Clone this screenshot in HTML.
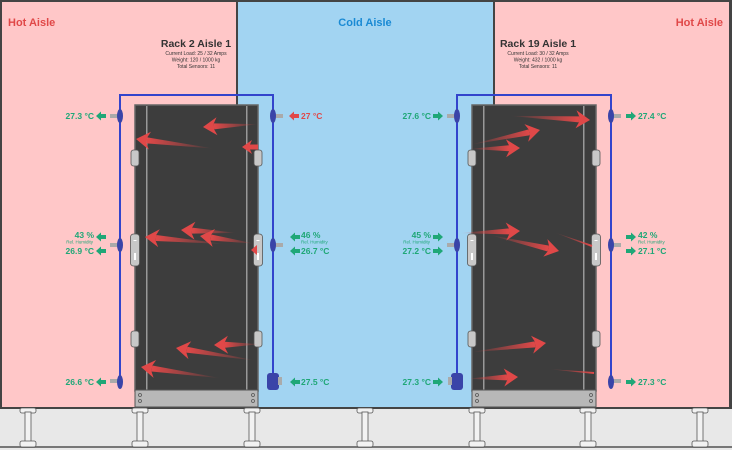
<!DOCTYPE html>
<html><head><meta charset="utf-8"><style>
html,body{margin:0;padding:0;background:#e8e8e8;}
svg{display:block;font-family:"Liberation Sans",sans-serif;}
.g{fill:#1fa777;font-weight:bold;font-size:8.5px;}
.s{fill:#1fa777;font-size:4.5px;}
.r{fill:#e04848;font-weight:bold;font-size:8.5px;}
</style></head><body>
<svg width="732" height="450" viewBox="0 0 732 450" xmlns="http://www.w3.org/2000/svg">
<defs>
<linearGradient id="fade" x1="0" y1="0" x2="1" y2="0">
<stop offset="0" stop-color="#e04848" stop-opacity="1"/>
<stop offset="1" stop-color="#e04848" stop-opacity="0"/>
</linearGradient>
<g id="pd">
<rect x="-8" y="408" width="16" height="5" rx="2" fill="#f2f2f2" stroke="#555" stroke-width="0.8"/>
<rect x="-3" y="412" width="6" height="30" fill="#f2f2f2" stroke="#555" stroke-width="0.8"/>
<rect x="-8" y="441" width="16" height="6" rx="2" fill="#f2f2f2" stroke="#555" stroke-width="0.8"/>
</g>
<g id="gl"><polygon points="0,0 5,-4.5 5,-2 10,-2 10,2 5,2 5,4.5" fill="#1fa777"/></g>
<g id="ha"><rect x="-4" y="-8" width="8" height="16" rx="2.5" fill="#c8c8c8" stroke="#555" stroke-width="0.8"/></g>
<g id="hb"><rect x="-4.5" y="-16" width="9" height="32" rx="3" fill="#c8c8c8" stroke="#555" stroke-width="0.8"/><rect x="-1.5" y="-10" width="3" height="1" fill="#fff"/><rect x="-1" y="3" width="2" height="7" fill="#fff"/></g>
<g id="ah"><polygon points="0,0 14,-9 11,-3 11,3 14,9" fill="#e04848"/></g>
</defs>
<rect x="0" y="0" width="732" height="450" fill="#e8e8e8"/>
<rect x="0" y="446" width="732" height="2" fill="#777"/>
<rect x="0" y="0" width="732" height="409" fill="#444"/>
<rect x="2" y="2" width="234" height="405" fill="#ffc7c8"/>
<rect x="238" y="2" width="255" height="405" fill="#a2d4f2"/>
<rect x="495" y="2" width="234" height="405" fill="#ffc7c8"/>
<use href="#pd" x="28"/><use href="#pd" x="140"/><use href="#pd" x="252"/><use href="#pd" x="365"/><use href="#pd" x="477"/><use href="#pd" x="588"/><use href="#pd" x="700"/>
<text x="8" y="26" font-size="11" font-weight="bold" fill="#e04848">Hot Aisle</text>
<text x="365" y="26" font-size="11" font-weight="bold" fill="#1a8ad4" text-anchor="middle">Cold Aisle</text>
<text x="723" y="26" font-size="11" font-weight="bold" fill="#e04848" text-anchor="end">Hot Aisle</text>
<text x="196" y="47" font-size="10.5" font-weight="bold" fill="#333" text-anchor="middle">Rack 2 Aisle 1</text>
<text x="196" y="55" font-size="5" fill="#333" text-anchor="middle">Current Load: 25 / 32 Amps</text>
<text x="196" y="61.5" font-size="5" fill="#333" text-anchor="middle">Weight: 120 / 1000 kg</text>
<text x="196" y="68" font-size="5" fill="#333" text-anchor="middle">Total Sensors: 11</text>
<text x="538" y="47" font-size="10.5" font-weight="bold" fill="#333" text-anchor="middle">Rack 19 Aisle 1</text>
<text x="538" y="55" font-size="5" fill="#333" text-anchor="middle">Current Load: 30 / 32 Amps</text>
<text x="538" y="61.5" font-size="5" fill="#333" text-anchor="middle">Weight: 432 / 1000 kg</text>
<text x="538" y="68" font-size="5" fill="#333" text-anchor="middle">Total Sensors: 11</text>
<rect x="135" y="105" width="123" height="286" fill="#3d3d3d" stroke="#666" stroke-width="1.5"/>
<rect x="146" y="106" width="1.5" height="284" fill="#999"/><rect x="246" y="106" width="1.5" height="284" fill="#999"/>
<rect x="135" y="390" width="123" height="17" fill="#b8b8b8" stroke="#555" stroke-width="1"/>
<g fill="none" stroke="#555" stroke-width="0.8"><circle cx="140" cy="395" r="1.5"/><circle cx="140" cy="401" r="1.5"/><circle cx="253" cy="395" r="1.5"/><circle cx="253" cy="401" r="1.5"/></g>
<rect x="472" y="105" width="124" height="286" fill="#3d3d3d" stroke="#666" stroke-width="1.5"/>
<rect x="483" y="106" width="1.5" height="284" fill="#999"/><rect x="583" y="106" width="1.5" height="284" fill="#999"/>
<rect x="472" y="390" width="124" height="17" fill="#b8b8b8" stroke="#555" stroke-width="1"/>
<g fill="none" stroke="#555" stroke-width="0.8"><circle cx="477" cy="395" r="1.5"/><circle cx="477" cy="401" r="1.5"/><circle cx="591" cy="395" r="1.5"/><circle cx="591" cy="401" r="1.5"/></g>
<use href="#ha" x="135" y="158"/><use href="#hb" x="135" y="250"/><use href="#ha" x="135" y="339"/>
<use href="#ha" x="258" y="158"/><use href="#hb" x="258" y="250"/><use href="#ha" x="258" y="339"/>
<use href="#ha" x="472" y="158"/><use href="#hb" x="472" y="250"/><use href="#ha" x="472" y="339"/>
<use href="#ha" x="596" y="158"/><use href="#hb" x="596" y="250"/><use href="#ha" x="596" y="339"/>
<!-- red arrows rack1 -->
<g transform="translate(203,127) rotate(-3)"><use href="#ah"/><polygon points="11,-3 55,0 11,3" fill="url(#fade)"/></g>
<g transform="translate(136,139) rotate(7)"><use href="#ah"/><polygon points="11,-3 78,0 11,3" fill="url(#fade)"/></g>
<g transform="translate(242,147)"><polygon points="0,0 10,-7 8,-2.5 8,2.5 10,7" fill="#e04848"/><polygon points="8,-2.5 16,-2.5 16,2.5 8,2.5" fill="#e04848"/></g>
<g transform="translate(145,237) rotate(5)"><use href="#ah"/><polygon points="11,-3 80,0 11,3" fill="url(#fade)"/></g>
<g transform="translate(181,230) rotate(3)"><use href="#ah"/><polygon points="11,-3 55,0 11,3" fill="url(#fade)"/></g>
<g transform="translate(200,236) rotate(8)"><use href="#ah"/><polygon points="11,-3 55,0 11,3" fill="url(#fade)"/></g>
<g transform="translate(251,250)"><polygon points="0,0 6,-5 6,5" fill="#e04848"/></g>
<g transform="translate(176,348) rotate(9)"><use href="#ah"/><polygon points="11,-3 80,0 11,3" fill="url(#fade)"/></g>
<g transform="translate(214,345) rotate(-1)"><use href="#ah"/><polygon points="11,-3 45,0 11,3" fill="url(#fade)"/></g>
<g transform="translate(141,367) rotate(8)"><use href="#ah"/><polygon points="11,-3 80,0 11,3" fill="url(#fade)"/></g>
<!-- red arrows rack2 -->
<g transform="translate(540,130) scale(-1,1) rotate(12)"><use href="#ah"/><polygon points="11,-3 70,0 11,3" fill="url(#fade)"/></g>
<g transform="translate(520,148) scale(-1,1) rotate(1)"><use href="#ah"/><polygon points="11,-3 50,0 11,3" fill="url(#fade)"/></g>
<g transform="translate(590,120) scale(-1,1) rotate(-3)"><use href="#ah"/><polygon points="11,-3 80,0 11,3" fill="url(#fade)"/></g>
<g transform="translate(520,231) scale(-1,1) rotate(2)"><use href="#ah"/><polygon points="11,-3 60,0 11,3" fill="url(#fade)"/></g>
<g transform="translate(559,251) scale(-1,1) rotate(-13)"><use href="#ah"/><polygon points="11,-3 70,0 11,3" fill="url(#fade)"/></g>
<g transform="translate(592,246) scale(-1,1) rotate(-20)"><polygon points="0,-1 40,0 0,1" fill="url(#fade)"/></g>
<g transform="translate(546,343) scale(-1,1) rotate(7)"><use href="#ah"/><polygon points="11,-3 75,0 11,3" fill="url(#fade)"/></g>
<g transform="translate(518,377) scale(-1,1) rotate(2)"><use href="#ah"/><polygon points="11,-3 50,0 11,3" fill="url(#fade)"/></g>
<g transform="translate(594,373) scale(-1,1) rotate(-5)"><polygon points="0,-1 45,0 0,1" fill="url(#fade)"/></g>
<g fill="none" stroke="#3344cc" stroke-width="2">
<polyline points="120,385 120,95 273,95 273,378"/>
<polyline points="457,378 457,95 611,95 611,385"/>
</g>
<g fill="#3a44a8">
<rect x="110" y="114" width="8" height="4" fill="#aaa"/><ellipse cx="120" cy="116" rx="3" ry="7"/>
<rect x="110" y="243" width="8" height="4" fill="#aaa"/><ellipse cx="120" cy="245" rx="3" ry="7"/>
<rect x="110" y="379" width="8" height="4" fill="#aaa"/><ellipse cx="120" cy="382" rx="3" ry="7"/>
<rect x="275" y="114" width="8" height="4" fill="#aaa"/><ellipse cx="273" cy="116" rx="3" ry="7"/>
<rect x="275" y="243" width="8" height="4" fill="#aaa"/><ellipse cx="273" cy="245" rx="3" ry="7"/>
<rect x="267" y="373" width="12" height="17" rx="3"/><rect x="278" y="377" width="4" height="8" fill="#aaa"/>
<rect x="447" y="114" width="8" height="4" fill="#aaa"/><ellipse cx="457" cy="116" rx="3" ry="7"/>
<rect x="447" y="243" width="8" height="4" fill="#aaa"/><ellipse cx="457" cy="245" rx="3" ry="7"/>
<rect x="451" y="373" width="12" height="17" rx="3"/><rect x="448" y="377" width="4" height="8" fill="#aaa"/>
<rect x="613" y="114" width="8" height="4" fill="#aaa"/><ellipse cx="611" cy="116" rx="3" ry="7"/>
<rect x="613" y="243" width="8" height="4" fill="#aaa"/><ellipse cx="611" cy="245" rx="3" ry="7"/>
<rect x="613" y="379" width="8" height="4" fill="#aaa"/><ellipse cx="611" cy="382" rx="3" ry="7"/>
</g>
<use href="#gl" x="96" y="116"/><text class="g" x="94" y="119" text-anchor="end">27.3 °C</text>
<use href="#gl" x="96" y="237"/><text class="g" x="94" y="238" text-anchor="end">43 %</text><text class="s" x="93" y="243.5" text-anchor="end">Rel. Humidity</text>
<use href="#gl" x="96" y="251"/><text class="g" x="94" y="254" text-anchor="end">26.9 °C</text>
<use href="#gl" x="96" y="382"/><text class="g" x="94" y="385" text-anchor="end">26.6 °C</text>
<g transform="translate(289,116)"><polygon points="0,0 5,-4.5 5,-2 10,-2 10,2 5,2 5,4.5" fill="#e04848"/></g><text class="r" x="301" y="119">27 °C</text>
<use href="#gl" x="290" y="237"/><text class="g" x="301" y="238">46 %</text><text class="s" x="301" y="243.5">Rel. Humidity</text>
<use href="#gl" x="290" y="251"/><text class="g" x="301" y="254">26.7 °C</text>
<use href="#gl" x="290" y="382"/><text class="g" x="301" y="385">27.5 °C</text>
<g fill="#1fa777">
<polygon transform="translate(443,116) scale(-1,1)" points="0,0 5,-4.5 5,-2 10,-2 10,2 5,2 5,4.5"/>
<polygon transform="translate(443,237) scale(-1,1)" points="0,0 5,-4.5 5,-2 10,-2 10,2 5,2 5,4.5"/>
<polygon transform="translate(443,251) scale(-1,1)" points="0,0 5,-4.5 5,-2 10,-2 10,2 5,2 5,4.5"/>
<polygon transform="translate(443,382) scale(-1,1)" points="0,0 5,-4.5 5,-2 10,-2 10,2 5,2 5,4.5"/>
<polygon transform="translate(636,116) scale(-1,1)" points="0,0 5,-4.5 5,-2 10,-2 10,2 5,2 5,4.5"/>
<polygon transform="translate(636,237) scale(-1,1)" points="0,0 5,-4.5 5,-2 10,-2 10,2 5,2 5,4.5"/>
<polygon transform="translate(636,251) scale(-1,1)" points="0,0 5,-4.5 5,-2 10,-2 10,2 5,2 5,4.5"/>
<polygon transform="translate(636,382) scale(-1,1)" points="0,0 5,-4.5 5,-2 10,-2 10,2 5,2 5,4.5"/>
</g>
<text class="g" x="431" y="119" text-anchor="end">27.6 °C</text>
<text class="g" x="431" y="238" text-anchor="end">45 %</text><text class="s" x="430" y="243.5" text-anchor="end">Rel. Humidity</text>
<text class="g" x="431" y="254" text-anchor="end">27.2 °C</text>
<text class="g" x="431" y="385" text-anchor="end">27.3 °C</text>
<text class="g" x="638" y="119">27.4 °C</text>
<text class="g" x="638" y="238">42 %</text><text class="s" x="638" y="243.5">Rel. Humidity</text>
<text class="g" x="638" y="254">27.1 °C</text>
<text class="g" x="638" y="385">27.3 °C</text>
</svg>
</body></html>
